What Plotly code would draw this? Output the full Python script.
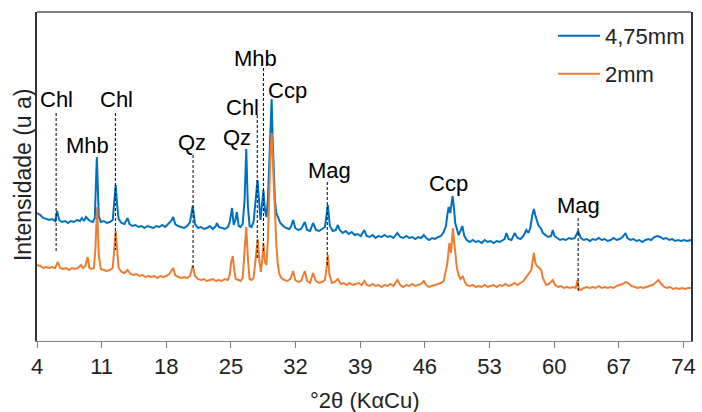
import plotly.graph_objects as go

# ---------------- data ----------------
two_theta_4_75 = [
    4.0, 4.35, 4.68, 5.0, 5.32, 5.64, 5.97, 6.18, 6.4, 6.72, 7.04, 7.36, 7.68, 8.0, 8.33, 8.65, 8.87, 9.08, 9.3, 9.51,
    9.73, 10.05, 10.26, 10.48, 10.69, 10.91, 11.23, 11.55, 11.88, 12.2, 12.41, 12.52, 12.68, 12.84,
    13.16, 13.48, 13.81, 14.02, 14.34, 14.66, 14.99, 15.31, 15.63, 15.95, 16.27, 16.6, 16.92, 17.24, 17.56, 17.88,
    18.2, 18.52, 18.75, 18.96, 19.29, 19.61, 19.93, 20.25, 20.57, 20.86,
    21.11, 21.43, 21.76, 22.08, 22.4, 22.72, 23.05, 23.37, 23.47, 23.69, 24.01, 24.33, 24.66, 24.87, 25.12, 25.3,
    25.48, 25.65, 25.84, 26.05, 26.27, 26.48, 26.66, 26.83,
    27.02, 27.23, 27.45, 27.61, 27.77, 27.88, 28.04, 28.2, 28.36, 28.52, 28.68, 28.85, 29.0, 29.16, 29.3, 29.41,
    29.52, 29.63, 29.76, 29.92, 30.13,
    30.35, 30.67, 30.99, 31.32, 31.53, 31.74, 31.96, 32.28, 32.6, 33.0, 33.25, 33.57, 33.89, 34.21, 34.54, 34.86,
    35.18, 35.5, 35.71,
    36.04, 36.36, 36.58, 36.79, 37.11, 37.43, 37.76, 38.08, 38.4, 38.72, 39.05, 39.45, 39.69, 40.02, 40.34, 40.66,
    40.98, 41.31, 41.63, 41.95, 42.27, 42.6, 43.02, 43.34, 43.67, 43.99, 44.31, 44.63, 44.96, 45.28, 45.6, 45.89,
    46.14, 46.46, 46.78, 47.11, 47.43, 47.75, 48.04,
    48.28, 48.45, 48.58, 48.75, 48.88, 49.01, 49.15, 49.29, 49.47, 49.65, 49.85, 50.06, 50.27,
    50.54, 50.86, 51.19, 51.51, 51.83, 52.15, 52.48, 52.8, 53.12, 53.45, 53.77, 54.09, 54.41, 54.63, 54.84, 55.06,
    55.38, 55.73, 56.03, 56.35, 56.67, 56.99,
    57.21, 57.42, 57.64, 57.81, 57.95, 58.12, 58.28, 58.44, 58.6, 58.78, 59.03, 59.35, 59.67, 59.85,
    60.04, 60.31, 60.63, 60.95, 61.28, 61.6, 61.92, 62.24, 62.6, 62.89, 63.21, 63.54, 63.86, 64.18, 64.5, 64.83,
    65.15, 65.47, 65.79, 66.12, 66.44, 66.76, 67.08, 67.41, 67.73,
    67.94, 68.26, 68.59, 68.91, 69.23, 69.55, 69.88, 70.2, 70.52, 70.84, 71.17, 71.49, 71.81, 72.13, 72.46, 72.78,
    73.1, 73.42, 73.75, 74.07, 74.39, 74.89,
]
intensity_4_75 = [
    128, 126, 123, 122, 121, 122, 120, 130, 121, 119, 120, 118, 120, 119, 121, 120, 123, 120, 124, 122,
    120, 119, 123, 184, 125, 119, 120, 118, 119, 121, 141, 156, 136, 122,
    118, 117, 123, 117, 115, 116, 114, 115, 113, 115, 114, 113, 115, 114, 116, 114,
    117, 120, 124, 117, 115, 114, 113, 115, 119, 135,
    117, 113, 114, 112, 113, 115, 112, 115, 118, 114, 113, 112, 114, 119, 133, 116,
    121, 129, 115, 114, 117, 141, 192, 136,
    115, 114, 119, 136, 156, 161, 141, 121, 136, 151, 131, 124, 141, 181, 221, 242,
    201, 164, 141, 128, 122,
    118, 115, 113, 112, 115, 121, 113, 111, 112, 119, 111, 110, 118, 111, 110, 112,
    114, 136, 115,
    110, 111, 116, 111, 108, 110, 107, 109, 106, 107, 105, 111, 105, 104, 106, 103,
    105, 104, 106, 104, 105, 103, 108, 104, 103, 105, 103, 104, 102, 104, 103, 106,
    103, 101, 103, 102, 104, 105, 109,
    115, 127, 134, 128, 136, 145, 133, 118, 112, 106, 110, 115, 105,
    101, 99, 101, 99, 100, 98, 101, 99, 100, 98, 100, 99, 101, 102, 108, 102,
    101, 108, 103, 102, 105, 111,
    108, 113, 126, 132, 126, 121, 116, 114, 112, 108, 106, 104, 105, 111,
    105, 103, 101, 102, 101, 103, 102, 103, 110, 103, 101, 102, 100, 102, 101, 103,
    101, 102, 100, 101, 103, 101, 102, 104, 108,
    103, 101, 102, 100, 101, 99, 101, 102, 101, 104, 105, 104, 102, 103, 101, 102,
    100, 101, 100, 101, 100, 101,
]

two_theta_2 = [
    4.0, 4.35, 4.68, 5.0, 5.32, 5.64, 5.97, 6.26, 6.5, 6.82, 7.15, 7.47, 7.79, 8.11, 8.44, 8.76, 8.97, 9.24, 9.48, 9.67,
    9.94, 10.16, 10.32, 10.51, 10.69, 10.91, 11.23, 11.55, 11.88, 12.2, 12.36, 12.52, 12.68, 12.84,
    13.16, 13.48, 13.81, 14.13, 14.45, 14.77, 15.1, 15.42, 15.74, 16.06, 16.38, 16.71, 17.03, 17.35, 17.67, 17.99,
    18.32, 18.53, 18.75, 18.96, 19.29, 19.61, 19.93, 20.25, 20.57, 20.86,
    21.11, 21.43, 21.76, 22.08, 22.4, 22.72, 23.05, 23.37, 23.69, 24.01, 24.33, 24.66, 24.87, 25.03, 25.2, 25.36,
    25.52, 25.84, 26.05, 26.27, 26.43, 26.66, 26.85, 27.02,
    27.23, 27.45, 27.66, 27.91, 28.09, 28.25, 28.41, 28.52, 28.68, 28.85, 29.0, 29.16, 29.3, 29.41, 29.52, 29.63,
    29.76, 29.92, 30.08, 30.24, 30.46,
    30.78, 31.1, 31.42, 31.74, 31.96, 32.28, 32.6, 33.0, 33.25, 33.57, 33.89, 34.21, 34.54, 34.86, 35.18, 35.36,
    35.5, 35.66, 35.93,
    36.25, 36.58, 36.9, 37.22, 37.54, 37.86, 38.18, 38.51, 38.83, 39.15, 39.45, 39.69, 40.02, 40.34, 40.66, 40.98,
    41.31, 41.63, 41.95, 42.27, 42.6, 43.02, 43.34, 43.67, 43.99, 44.31, 44.63, 44.96, 45.28, 45.6, 45.89, 46.14,
    46.46, 46.78, 47.11, 47.43, 47.75, 48.04,
    48.23, 48.4, 48.47, 48.65, 48.83, 48.93, 49.04, 49.15, 49.29, 49.47, 49.65, 49.85, 50.11, 50.33, 50.54,
    50.86, 51.19, 51.51, 51.83, 52.15, 52.48, 52.8, 53.12, 53.45, 53.77, 54.09, 54.41, 54.73, 55.06, 55.38, 55.7,
    56.03, 56.35, 56.67, 56.99, 57.26, 57.53, 57.69, 57.81, 57.95,
    58.12, 58.28, 58.44, 58.6, 58.78, 58.95, 59.13, 59.45, 59.85, 60.1, 60.42, 60.74, 61.06, 61.39, 61.71, 62.03,
    62.35,
    62.53, 62.67, 62.89, 63.21, 63.54, 63.86, 64.18, 64.5, 64.83, 65.15, 65.47, 65.79, 66.12, 66.44, 66.76, 67.08,
    67.41, 67.73, 68.05, 68.37, 68.7, 69.02, 69.34, 69.66, 69.98, 70.31, 70.63, 70.95, 71.3, 71.6, 71.92, 72.24,
    72.56, 72.88, 73.21, 73.53, 73.85, 74.17, 74.5, 74.89,
]
intensity_2 = [
    76, 75, 73, 74, 73, 74, 73, 79, 73, 72, 73, 71, 73, 72, 73, 76, 73, 75, 84, 73,
    72, 73, 91, 134, 86, 72, 71, 70, 71, 73, 91, 110, 91, 73,
    69, 68, 71, 67, 66, 67, 65, 66, 64, 65, 64, 65, 63, 65, 64, 65,
    67, 70, 73, 66, 64, 63, 64, 63, 65, 75,
    65, 62, 61, 62, 60, 61, 62, 60, 61, 60, 62, 61, 66, 79, 85, 71,
    62, 61, 60, 63, 81, 114, 81, 62,
    61, 63, 81, 102, 79, 69, 83, 98, 79, 76, 101, 156, 191, 208, 181, 164,
    126, 96, 76, 67, 63,
    61, 60, 62, 70, 61, 59, 60, 70, 60, 58, 68, 60, 58, 59, 61, 73,
    86, 67, 58,
    59, 62, 57, 58, 56, 58, 56, 57, 58, 56, 60, 56, 55, 57, 55, 56,
    54, 56, 55, 57, 55, 61, 56, 54, 56, 55, 57, 55, 56, 57, 60, 56,
    54, 55, 56, 57, 58, 60,
    67, 76, 81, 98, 88, 101, 113, 101, 88, 73, 66, 62, 65, 59, 56,
    55, 56, 54, 55, 54, 56, 54, 55, 56, 54, 56, 55, 57, 55, 56, 58,
    56, 58, 60, 64, 67, 71, 81, 88, 79,
    75, 74, 72, 71, 63, 59, 56, 57, 61, 56, 54, 55, 53, 54, 53, 54,
    53,
    61, 52, 51, 53, 54, 53, 54, 53, 55, 53, 54, 53, 54, 53, 55, 56,
    57, 59, 58, 55, 54, 53, 54, 53, 54, 55, 56, 58, 61, 57, 54, 53,
    54, 52, 53, 52, 53, 52, 53, 53,
]

assert len(two_theta_4_75) == len(intensity_4_75), (len(two_theta_4_75), len(intensity_4_75))
assert len(two_theta_2) == len(intensity_2), (len(two_theta_2), len(intensity_2))

series_names = ["4,75mm", "2mm"]

# phase labels: name, label 2θ, label height, and dashed marker lines
phase_names = ["Chl", "Mhb", "Chl", "Qz", "Qz", "Chl", "Mhb", "Ccp", "Mag", "Ccp", "Mag"]
phase_label_2theta = [6.07, 9.51, 12.62, 20.79, 25.62, 26.2, 27.66, 31.1, 35.7, 48.6, 62.67]
phase_label_height = [242, 196, 242, 199, 204, 234, 283, 251, 171, 158, 136]

marker_2theta = [6.07, 12.49, 20.9, 27.85, 28.52, 35.43, 62.6]
marker_top = [228, 228, 186, 226, 273, 159, 123]
marker_bottom = [88, 91, 71, 83, 88, 74, 49]

x_ticks = [4, 11, 18, 25, 32, 39, 46, 53, 60, 67, 74]

# ---------------- figure ----------------
FONT = "Liberation Sans, Arial, sans-serif"
BLUE = "#0070C0"
ORANGE = "#ED7D31"

fig = go.Figure()
fig.add_trace(go.Scatter(x=two_theta_4_75, y=intensity_4_75, mode="lines", name=series_names[0],
                         line=dict(color=BLUE, width=2), legend="legend"))
fig.add_trace(go.Scatter(x=two_theta_2, y=intensity_2, mode="lines", name=series_names[1],
                         line=dict(color=ORANGE, width=2), legend="legend2"))

shapes = []
for xv, y0, y1 in zip(marker_2theta, marker_top, marker_bottom):
    shapes.append(dict(type="line", xref="x", yref="y", x0=xv, x1=xv, y0=y0, y1=y1,
                       line=dict(color="black", width=1, dash="3px,2px"), layer="above"))
# top frame line
shapes.append(dict(type="line", xref="paper", yref="paper", x0=0, x1=1, y0=1, y1=1,
                   line=dict(color="black", width=1)))

annotations = []
for name, xv, yv in zip(phase_names, phase_label_2theta, phase_label_height):
    annotations.append(dict(x=xv, y=yv, xref="x", yref="y", text=name, showarrow=False,
                            font=dict(family=FONT, size=22, color="black"),
                            xanchor="center", yanchor="middle"))

annotations.append(dict(x=0.5008, y=-0.182, xref="paper", yref="paper", text="°2θ (KαCu)",
                        showarrow=False, font=dict(family=FONT, size=22, color="#222"),
                        xanchor="center", yanchor="middle"))
annotations.append(dict(x=-0.0212, y=0.5046, xref="paper", yref="paper", text="Intensidade (u a)",
                        showarrow=False, textangle=-90, font=dict(family=FONT, size=23, color="#222"),
                        xanchor="center", yanchor="middle"))

fig.update_layout(
    width=702, height=412,
    margin=dict(l=37, r=6, t=12, b=71),
    paper_bgcolor="white", plot_bgcolor="white",
    font=dict(family=FONT, size=22, color="#222"),
    xaxis=dict(range=[4, 74.82], tickvals=x_ticks, ticks="outside", ticklen=6, tickwidth=1,
               tickcolor="#808080", showline=True, linecolor="#808080", linewidth=1,
               showgrid=False, zeroline=False, tickfont=dict(family=FONT, size=22, color="#222")),
    yaxis=dict(range=[0, 329], showticklabels=False, ticks="", showline=True, linecolor="#333333",
               linewidth=1.5, mirror=True, showgrid=False, zeroline=False),
    legend=dict(x=0.789, y=0.927, xanchor="left", yanchor="middle", bgcolor="rgba(0,0,0,0)",
                font=dict(family=FONT, size=22, color="#222"), itemwidth=42),
    legend2=dict(x=0.789, y=0.8116, xanchor="left", yanchor="middle", bgcolor="rgba(0,0,0,0)",
                 font=dict(family=FONT, size=22, color="#222"), itemwidth=42),
    shapes=shapes,
    annotations=annotations,
    showlegend=True,
)

fig.write_html("out.html", config={"displayModeBar": False},
               post_script="document.body.style.margin='0';document.body.style.overflow='hidden';")
